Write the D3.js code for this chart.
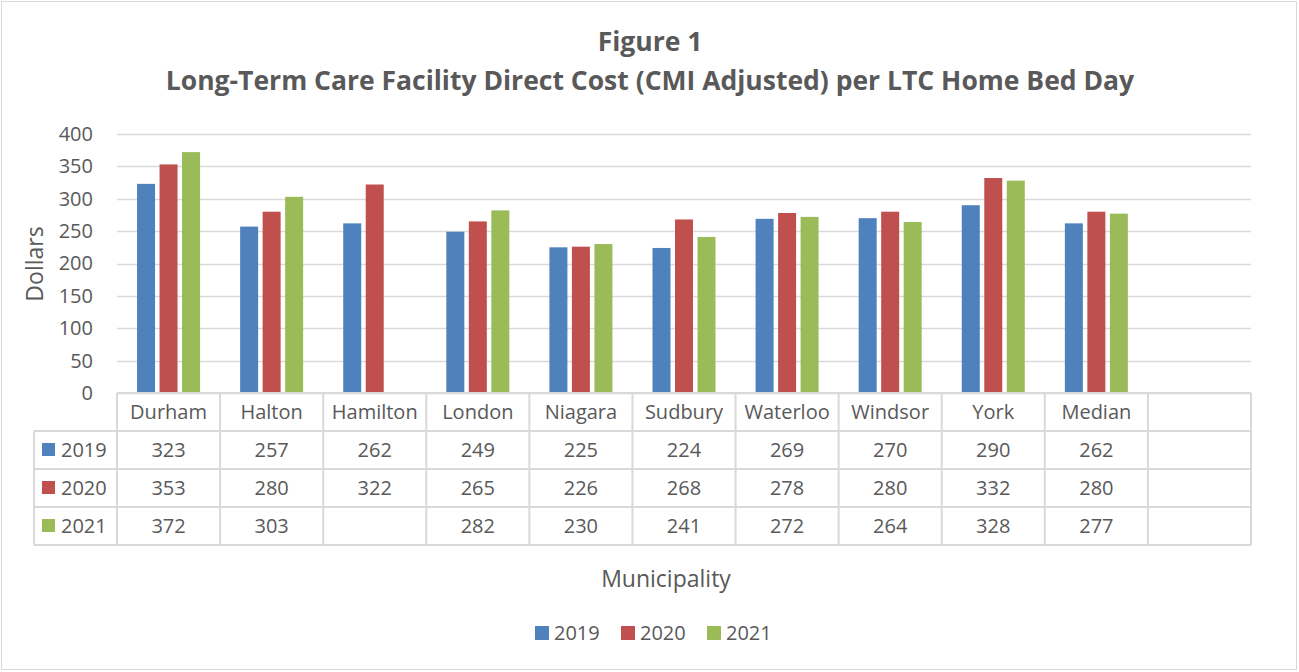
<!DOCTYPE html>
<html><head><meta charset="utf-8">
<script src="https://cdn.jsdelivr.net/npm/d3@7"></script>
<style>html,body{margin:0;padding:0;background:#fff;}svg{display:block;}</style>
</head><body>
<svg id="c" width="1299" height="672"></svg>
<script>
const categories = ["Durham","Halton","Hamilton","London","Niagara","Sudbury","Waterloo","Windsor","York","Median",""];
const seriesNames = ["2019","2020","2021"];
const v2019 = [323,257,262,249,225,224,269,270,290,262,null];
const v2020 = [353,280,322,265,226,268,278,280,332,280,null];
const v2021 = [372,303,null,282,230,241,272,264,328,277,null];
const yTicks = [0,50,100,150,200,250,300,350,400];
const colors = ["#4f81bd","#c0504d","#9bbb59"];
const series = [v2019,v2020,v2021];

const svg = d3.select("#c");
const font = "'Open Sans', sans-serif";
const txt = "#595959";
const grid = "#d9d9d9";

svg.append("rect").attr("x",1.5).attr("y",1.5).attr("width",1295).attr("height",668)
  .attr("fill","#fff").attr("stroke","#d9d9d9").attr("stroke-width",1);

const pL = 117, pR = 1251, pT = 134, pB = 393;
const x = d3.scaleBand().domain(categories).range([pL,pR]);
const y = d3.scaleLinear().domain([0,400]).range([pB,pT]);
const inner = d3.scaleBand().domain(seriesNames).range([0,63]).paddingInner(0.2);

// grid
svg.append("g").selectAll("line").data(yTicks).join("line")
  .attr("x1",pL).attr("x2",pR).attr("y1",d=>Math.round(y(d))+0.5).attr("y2",d=>Math.round(y(d))+0.5)
  .attr("stroke",grid).attr("stroke-width",1.3);

// y axis
const ya = svg.append("g").attr("transform",`translate(${pL},0)`)
  .call(d3.axisLeft(y).tickValues(yTicks).tickSize(0).tickPadding(24));
ya.select(".domain").remove();
ya.selectAll("text").attr("font-family",font).attr("font-size",20).attr("fill",txt);

// bars
const bw = x.bandwidth();
series.forEach((s,i)=>{
  svg.append("g").selectAll("rect").data(categories.map((c,j)=>({c,v:s[j]})).filter(d=>d.v!=null)).join("rect")
    .attr("x",d=>x(d.c)+(bw-63)/2+inner(seriesNames[i]))
    .attr("width",inner.bandwidth())
    .attr("y",d=>y(d.v)).attr("height",d=>y(0)-y(d.v))
    .attr("fill",colors[i]);
});

// data table
const rowH = 38;
const tLeft = 34;
const tg = svg.append("g").attr("stroke",grid).attr("stroke-width",2).attr("fill","none");
tg.append("line").attr("x1",pL).attr("x2",pR).attr("y1",pB).attr("y2",pB);
for(let r=1;r<=4;r++){
  tg.append("line").attr("x1",tLeft).attr("x2",pR).attr("y1",pB+r*rowH).attr("y2",pB+r*rowH);
}
categories.forEach((c)=>{
  tg.append("line").attr("x1",x(c)).attr("x2",x(c)).attr("y1",pB).attr("y2",pB+4*rowH);
});
tg.append("line").attr("x1",pR).attr("x2",pR).attr("y1",pB).attr("y2",pB+4*rowH);
tg.append("line").attr("x1",tLeft).attr("x2",tLeft).attr("y1",pB+rowH).attr("y2",pB+4*rowH);

svg.append("g").selectAll("text").data(categories).join("text")
  .attr("x",d=>x(d)+bw/2).attr("y",pB+rowH/2+7)
  .attr("text-anchor","middle").attr("font-family",font).attr("font-size",20).attr("fill",txt)
  .text(d=>d);

series.forEach((s,i)=>{
  const ry = pB+(i+1)*rowH;
  svg.append("rect").attr("x",42).attr("y",ry+rowH/2-7).attr("width",13).attr("height",13).attr("fill",colors[i]);
  svg.append("text").attr("x",61).attr("y",ry+rowH/2+7).attr("font-family",font).attr("font-size",20).attr("fill",txt).text(seriesNames[i]);
  svg.append("g").selectAll("text").data(categories.map((c,j)=>({c,v:s[j]})).filter(d=>d.v!=null)).join("text")
    .attr("x",d=>x(d.c)+bw/2).attr("y",ry+rowH/2+7)
    .attr("text-anchor","middle").attr("font-family",font).attr("font-size",20).attr("fill",txt)
    .text(d=>d.v);
});

svg.append("text").attr("transform","translate(43,264) rotate(-90)").attr("text-anchor","middle")
  .attr("font-family",font).attr("font-size",23).attr("fill",txt).text("Dollars");
svg.append("text").attr("x",666).attr("y",587).attr("text-anchor","middle")
  .attr("font-family",font).attr("font-size",23).attr("fill",txt).text("Municipality");

const t1 = svg.append("text").attr("x",650).attr("y",51).attr("text-anchor","middle")
  .attr("font-family",font).attr("font-weight","bold").attr("font-size",24).attr("fill",txt).text("Figure 1");
const t2 = svg.append("text").attr("x",650).attr("y",90).attr("text-anchor","middle")
  .attr("font-family",font).attr("font-weight","bold").attr("font-size",24).attr("fill",txt)
  .text("Long-Term Care Facility Direct Cost (CMI Adjusted) per LTC Home Bed Day");
const w2 = t2.node().getComputedTextLength();
const fs = 24*969/w2;
t2.attr("font-size",fs); t1.attr("font-size",fs);

const lg = svg.append("g");
const lx = [535,621,707];
seriesNames.forEach((n,i)=>{
  lg.append("rect").attr("x",lx[i]).attr("y",626).attr("width",14).attr("height",14).attr("fill",colors[i]);
  lg.append("text").attr("x",lx[i]+19).attr("y",640).attr("font-family",font).attr("font-size",20).attr("fill",txt).text(n);
});
</script>
</body></html>
